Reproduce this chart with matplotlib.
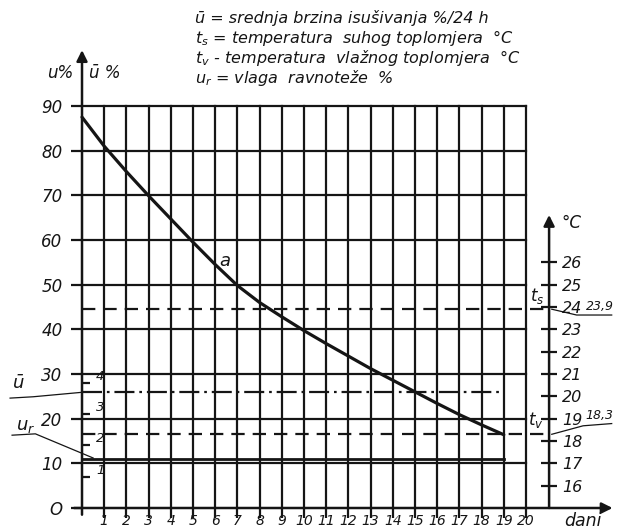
import matplotlib
matplotlib.use("Agg")
import matplotlib.pyplot as plt

# ---- podaci ----
days = list(range(0, 20))
moisture = [87.5, 81.0, 75.3, 69.9, 64.7, 59.5, 54.5, 49.8, 46.0, 42.8,
            39.7, 36.8, 34.0, 31.2, 28.6, 26.0, 23.4, 20.9, 18.6, 16.4]
u_ticks = [0, 10, 20, 30, 40, 50, 60, 70, 80, 90]
day_ticks = list(range(1, 21))
temp_ticks = list(range(16, 27))
ubar_ticks = [1, 2, 3, 4]
ubar_mean = 3.7      # %/24h
u_eq = 11            # vlaga ravnoteže %
t_dry = 23.9         # °C
t_wet = 18.3         # °C
last_day = 19

plt.rcParams["font.family"] = "DejaVu Sans"
plt.rcParams["font.style"] = "italic"
INK = "#151515"
LW = 1.6

fig = plt.figure(figsize=(6.17, 5.30), dpi=100)
ax = fig.add_axes([0, 0, 1, 1])
XL = (-3.694, 24.099)
YL = (-4.925, 113.72)
ax.set_xlim(*XL)
ax.set_ylim(*YL)
for s in ax.spines.values():
    s.set_visible(False)

# osi (lijeva i x) kroz spine položaje
ax.spines["left"].set_position(("data", 0))
ax.spines["bottom"].set_position(("data", 0))
ax.set_yticks(u_ticks)
ax.set_yticklabels(["O" if v == 0 else str(v) for v in u_ticks], fontsize=12)
ax.set_xticks(day_ticks)
ax.set_xticklabels([str(d) for d in day_ticks], fontsize=10)
ax.tick_params(axis="y", direction="out", length=8, width=LW, pad=6, colors=INK)
ax.tick_params(axis="x", direction="out", length=7, width=LW, pad=-3, colors=INK)

# mreža
for v in u_ticks[1:]:
    ax.plot([0, 20], [v, v], color=INK, lw=LW)
for d in day_ticks:
    ax.plot([d, d], [0, 90], color=INK, lw=LW)

arrow = dict(arrowstyle="-|>", mutation_scale=16, lw=1.8, color=INK,
             shrinkA=0, shrinkB=0)
ax.annotate("", xy=(0, 102.5), xytext=(0, -1.5), arrowprops=arrow)
ax.annotate("", xy=(23.9, 0), xytext=(-0.36, 0), arrowprops=arrow)
ax.annotate("", xy=(21.04, 65.6), xytext=(21.04, 0), arrowprops=arrow)

# krivulja a
ax.plot(days, moisture, color=INK, lw=2.3, solid_capstyle="round",
        solid_joinstyle="round")
ax.text(6.45, 55.3, "a", fontsize=13, color=INK, ha="center", va="center")

# vlaga ravnoteže
ax.plot([0, last_day], [u_eq, u_eq], color=INK, lw=2.0)

# °C skala
ax2 = ax.twinx()
ax2.set_ylim(YL[0] / 5 + 15, YL[1] / 5 + 15)
for s in ax2.spines.values():
    s.set_visible(False)
ax2.spines["right"].set_position(("data", 21.04))
ax2.set_yticks(temp_ticks)
ax2.set_yticklabels([str(t) for t in temp_ticks], fontsize=11.5)
ax2.tick_params(axis="y", direction="inout", length=11, width=LW, pad=4, colors=INK)
ax2.plot([0, 21.04], [t_dry, t_dry], color=INK, lw=LW, dashes=(6, 3.6))
ax2.plot([0, 21.04], [t_wet, t_wet], color=INK, lw=LW, dashes=(6, 3.6))

# ū skala
ax3 = ax.twinx()
ax3.set_ylim(YL[0] / 7, YL[1] / 7)
for s in ax3.spines.values():
    s.set_visible(False)
ax3.spines["right"].set_position(("data", 0))
ax3.set_yticks(ubar_ticks)
ax3.set_yticklabels([str(t) for t in ubar_ticks], fontsize=9.5, va="bottom")
ax3.tick_params(axis="y", direction="out", length=6, width=LW, pad=4, colors=INK)
ax3.plot([0, last_day], [ubar_mean, ubar_mean], color=INK, lw=LW,
         dashes=(9, 2.2, 1.2, 2.2))

# oznake osi
ax.text(-1.0, 97.4, "u%", fontsize=12, color=INK, ha="center", va="center")
ax.text(0.3, 97.4, "ū %", fontsize=12, color=INK, ha="left", va="center")
ax.text(21.6, 63.8, "°C", fontsize=12, color=INK, ha="left", va="center")
ax.text(21.7, -2.8, "dani", fontsize=12.5, color=INK, ha="left", va="center")

# legenda na vrhu
legend_lines = [
    "ū = srednja brzina isušivanja %/24 h",
    r"$t_s$ = temperatura  suhog toplomjera  °C",
    r"$t_v$ - temperatura  vlažnog toplomjera  °C",
    r"$u_r$ = vlaga  ravnoteže  %",
]
for i, line in enumerate(legend_lines):
    ax.text(5.1, 109.7 - i * 4.5, line, fontsize=11.5, color=INK,
            ha="left", va="center")

# pokazne linije lijevo
ax.text(-2.85, 28.0, "ū", fontsize=13, color=INK, ha="center", va="center")
ax.plot([-3.24, -2.2, 0], [24.6, 24.9, 25.9], color=INK, lw=0.9)
ax.text(-2.55, 18.3, r"$u_r$", fontsize=13, color=INK, ha="center", va="center")
ax.plot([-3.15, -2.1, 0.5], [16.3, 16.6, 11.2], color=INK, lw=0.9)

# pokazne linije desno
ax.text(20.5, 47.4, r"$t_s$", fontsize=12, color=INK, ha="center", va="center")
ax.plot([21.16, 22.28, 23.86], [44.5, 43.2, 43.2], color=INK, lw=0.9)
ax.text(23.35, 43.6, "23,9", fontsize=9, color=INK, ha="center", va="bottom")
ax.text(20.45, 19.8, r"$t_v$", fontsize=12, color=INK, ha="center", va="center")
ax.plot([21.16, 22.57, 23.86], [16.5, 18.4, 18.9], color=INK, lw=0.9)
ax.text(23.3, 19.2, "18,3", fontsize=9, color=INK, ha="center", va="bottom")

fig.savefig("out.png", dpi=100, facecolor="white")
